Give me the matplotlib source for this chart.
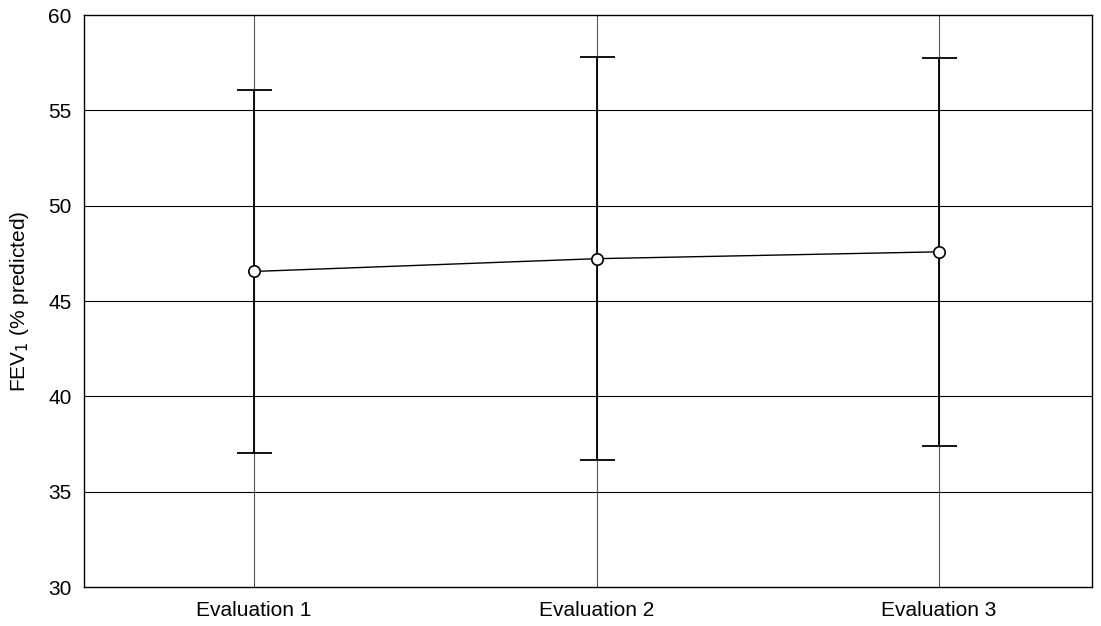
import matplotlib
matplotlib.use("Agg")
import matplotlib.pyplot as plt
import numpy as np

# data
labels = ["Evaluation 1", "Evaluation 2", "Evaluation 3"]
means = [46.55, 47.22, 47.58]
upper = [56.05, 57.80, 57.75]
lower = [37.03, 36.65, 37.38]

plt.rcParams['font.family'] = ['Liberation Sans', 'DejaVu Sans']
plt.rcParams['font.size'] = 15

fig = plt.figure(figsize=(11.01, 6.26), dpi=100)
ax = fig.add_axes([0.0763, 0.0623, 0.9155, 0.9137])

x = np.arange(len(labels))
means_a = np.array(means)
yerr = [means_a - np.array(lower), np.array(upper) - means_a]

# grid
for yv in range(35, 60, 5):
    ax.axhline(yv, color='black', lw=0.8, zorder=0)
for xv in x:
    ax.axvline(xv, color='#555555', lw=0.8, zorder=0)

ax.errorbar(x, means, yerr=yerr, fmt='none', ecolor='black', elinewidth=1.3,
            capsize=12.6, capthick=1.3, zorder=2)
ax.plot(x, means, color='black', lw=1.0, marker='o', markersize=8.2,
        markerfacecolor='white', markeredgecolor='black', markeredgewidth=1.2, zorder=3)

ax.set_xlim(-0.497, 2.447)
ax.set_ylim(30, 60)
ax.set_yticks(range(30, 61, 5))
ax.set_xticks(x)
ax.set_xticklabels(labels)
ax.tick_params(length=0, labelsize=15)
ax.tick_params(axis='y', pad=9)
ax.tick_params(axis='x', pad=10)
for s in ax.spines.values():
    s.set_linewidth(1.0)
ax.set_ylabel("FEV$_1$ (% predicted)", fontsize=15, labelpad=12)

fig.savefig("out.png", dpi=100)
